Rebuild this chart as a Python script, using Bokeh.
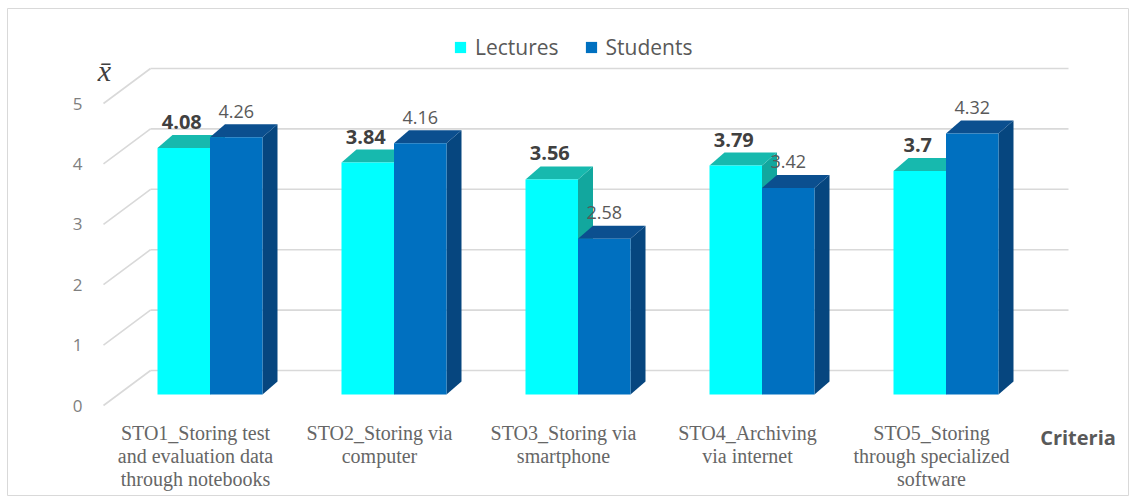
from bokeh.plotting import figure
from bokeh.models import Range1d, Legend, LegendItem
from bokeh.embed import file_html
from bokeh.resources import INLINE
from bokeh.core.properties import value

# ---------------- data ----------------
categories = [
    "STO1_Storing test\nand evaluation data\nthrough notebooks",
    "STO2_Storing via\ncomputer",
    "STO3_Storing via\nsmartphone",
    "STO4_Archiving\nvia internet",
    "STO5_Storing\nthrough specialized\nsoftware",
]
lectures = [4.08, 3.84, 3.56, 3.79, 3.7]
students = [4.26, 4.16, 2.58, 3.42, 4.32]
y_ticks = [0, 1, 2, 3, 4, 5]
series_names = ["Lectures", "Students"]
axis_title_y = "x\u0304"
axis_title_x = "Criteria"

# ---------------- layout constants (pixels) ----------------
W, H = 1131, 499
L, T, R, B = 7, 8, 3, 4
PX_X = 184.0          # pixels per category
PX_Y = 60.4           # pixels per unit of value
X0_PX = 209.5         # pixel x of first category centre
Y0_PX = 394.0         # pixel y of value 0 (front plane)

fw, fh = W - L - R, H - T - B
x_start = -(X0_PX - L) / PX_X
x_end = x_start + fw / PX_X
y_end = (Y0_PX - T) / PX_Y
y_start = y_end - fh / PX_Y


def dx(px):
    return px / PX_X


def dy(px):
    return px / PX_Y


def at_x(px):
    return x_start + (px - L) / PX_X


def at_y(py):
    return (Y0_PX - py) / PX_Y


BW = dx(52.5)     # bar width
DX = dx(15)       # bar depth (x)
DY = dy(13)       # bar depth (y)
BACK = dy(24)     # back wall depth (y)
WALL_X0 = at_x(150)
WALL_X1 = at_x(1068)
SIDE_X0 = at_x(103)
SIDE_DY = dy(-11)
LABEL_UP = dy(26)

C_FRONT = "#00FFFF"
C_TOP = "#17B9AE"
C_SIDE = "#12A79E"
B_FRONT = "#0070C0"
B_TOP = "#0B4F8F"
B_SIDE = "#06467F"
GRID = "#d9d9d9"

p = figure(width=W, height=H,
           x_range=Range1d(x_start, x_end), y_range=Range1d(y_start, y_end),
           x_axis_type=None, y_axis_type=None,
           toolbar_location=None, output_backend="svg",
           min_border_left=L, min_border_top=T, min_border_right=R, min_border_bottom=B)
p.outline_line_color = GRID
p.outline_line_width = 1
p.background_fill_color = "white"
p.border_fill_color = "white"

# back wall gridlines and side wall diagonals
p.segment(x0=[WALL_X0] * len(y_ticks), y0=[t + BACK for t in y_ticks],
          x1=[WALL_X1] * len(y_ticks), y1=[t + BACK for t in y_ticks],
          line_color=GRID, line_width=1.6)
p.segment(x0=[SIDE_X0] * len(y_ticks), y0=[t + SIDE_DY for t in y_ticks],
          x1=[WALL_X0] * len(y_ticks), y1=[t + BACK for t in y_ticks],
          line_color=GRID, line_width=1.6)

idx = list(range(len(categories)))


def side_faces(left_edges, vals):
    xs, ys = [], []
    for xr, v in zip(left_edges, vals):
        xs.append([xr, xr + DX, xr + DX, xr])
        ys.append([0, DY, v + DY, v])
    return xs, ys


def top_faces(lefts, vals):
    xs, ys = [], []
    for xl, v in zip(lefts, vals):
        xs.append([xl, xl + BW, xl + BW + DX, xl + DX])
        ys.append([v, v, v + DY, v + DY])
    return xs, ys


c_left = [i - BW for i in idx]
b_left = [i for i in idx]

# Lectures (cyan)
xs, ys = side_faces([i for i in idx], lectures)
p.patches(xs, ys, fill_color=C_SIDE, line_color=None)
xs, ys = top_faces(c_left, lectures)
p.patches(xs, ys, fill_color=C_TOP, line_color=None)
r_lec = p.quad(left=c_left, right=[x + BW for x in c_left], bottom=0, top=lectures,
               fill_color=C_FRONT, line_color=None)

# Students (blue)
xs, ys = side_faces([i + BW for i in idx], students)
p.patches(xs, ys, fill_color=B_SIDE, line_color=None)
xs, ys = top_faces(b_left, students)
p.patches(xs, ys, fill_color=B_TOP, line_color=None)
r_stu = p.quad(left=b_left, right=[x + BW for x in b_left], bottom=0, top=students,
               fill_color=B_FRONT, line_color=None)

# data labels
p.text(x=[i - BW / 2 - dx(2) for i in idx], y=[v + LABEL_UP for v in lectures],
       text=[str(v) for v in lectures], text_font=value("Open Sans"),
       text_font_size="20px", text_font_style="bold", text_color="#404040",
       text_align="center", text_baseline="alphabetic")
p.text(x=[i + BW / 2 for i in idx], y=[v + LABEL_UP for v in students],
       text=[str(v) for v in students], text_font=value("Open Sans"),
       text_font_size="18px", text_color="#595959",
       text_align="center", text_baseline="alphabetic")

# y tick labels
p.text(x=[at_x(77)] * len(y_ticks), y=[t + SIDE_DY for t in y_ticks],
       text=[str(t) for t in y_ticks], text_font=value("Open Sans"),
       text_font_size="17px", text_color="#7f7f7f",
       text_align="center", text_baseline="middle")

# y axis title (x-bar)
p.text(x=[at_x(104)], y=[at_y(70)], text=[axis_title_y],
       text_font=value("Liberation Serif"), text_font_style="italic",
       text_font_size="30px", text_color="#404040",
       text_align="center", text_baseline="middle")

# category labels
p.text(x=[i - dx(14.5) for i in idx], y=[at_y(421)] * len(idx), text=categories,
       text_font=value("Liberation Serif"), text_font_size="20px",
       text_color="#666666", text_align="center", text_baseline="top",
       text_line_height=1.05)

# x axis title
p.text(x=[at_x(1077.5)], y=[at_y(437)], text=[axis_title_x],
       text_font=value("Open Sans"), text_font_style="bold",
       text_font_size="20px", text_color="#595959",
       text_align="center", text_baseline="middle")

legend = Legend(items=[LegendItem(label=series_names[0], renderers=[r_lec]),
                       LegendItem(label=series_names[1], renderers=[r_stu])],
                orientation="horizontal", location=(446, 434),
                label_text_font="Open Sans", label_text_font_size="21px",
                label_text_color="#595959", glyph_width=14, glyph_height=14,
                label_standoff=8, spacing=25, padding=0, margin=0,
                border_line_alpha=0, background_fill_alpha=0)
p.add_layout(legend)

open("out.html", "w").write(file_html(p, INLINE))
